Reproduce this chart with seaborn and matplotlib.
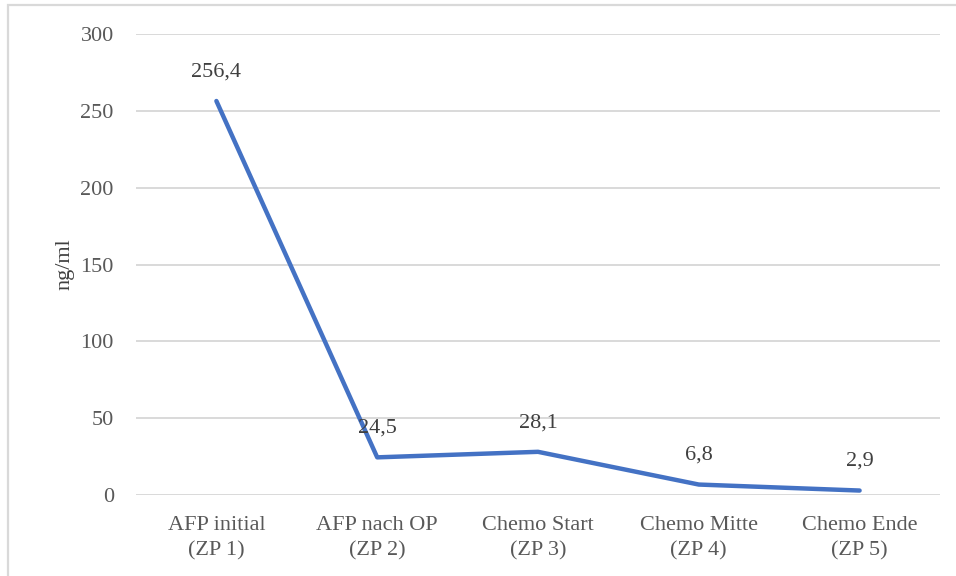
import matplotlib
matplotlib.use("Agg")
import matplotlib.pyplot as plt
import seaborn as sns
import pandas as pd
from matplotlib.patches import Rectangle

categories = ["AFP initial\n(ZP 1)", "AFP nach OP\n(ZP 2)", "Chemo Start\n(ZP 3)",
              "Chemo Mitte\n(ZP 4)", "Chemo Ende\n(ZP 5)"]
values = [256.4, 24.5, 28.1, 6.8, 2.9]
value_labels = ["256,4", "24,5", "28,1", "6,8", "2,9"]
y_ticks = [0, 50, 100, 150, 200, 250, 300]

sns.set_theme(style="white")
plt.rcParams["font.family"] = ["Liberation Serif", "DejaVu Serif"]

df = pd.DataFrame({"Zeitpunkt": categories, "AFP": values})

fig = plt.figure(figsize=(9.56, 5.76), dpi=100)
ax = fig.add_axes([136 / 956, 1 - 495 / 576, (940 - 136) / 956, (495 - 34) / 576])

sns.lineplot(data=df, x="Zeitpunkt", y="AFP", sort=False, ax=ax,
             color="#4472C4", linewidth=3.2, zorder=3)

ax.set_xlim(-0.5, len(categories) - 0.5)
ax.set_ylim(0, 300)
ax.set_yticks(y_ticks)
ax.set_yticklabels([str(t) for t in y_ticks])
ax.yaxis.grid(True, color="#d9d9d9", linewidth=1.4)
ax.xaxis.grid(False)
ax.set_axisbelow(True)
for s in ax.spines.values():
    s.set_visible(False)

ax.tick_params(axis="y", length=0, pad=16, labelsize=16, labelcolor="#595959")
ax.tick_params(axis="x", length=0, pad=15, labelsize=16, labelcolor="#595959")
for lbl in ax.get_xticklabels():
    lbl.set_linespacing(1.45)

ax.set_xlabel("")
ax.set_ylabel("ng/ml", fontsize=16, color="#404040", labelpad=4)

for i, (v, t) in enumerate(zip(values, value_labels)):
    ax.annotate(t, (i, v), xytext=(0, 21), textcoords="offset points",
                ha="center", va="center", fontsize=16, color="#404040", zorder=4)

# light frame around the chart area
fig.patches.append(Rectangle((8 / 956, -0.1), 1.1, 1 - 5 / 576 + 0.1,
                             transform=fig.transFigure, fill=False,
                             edgecolor="#d9d9d9", linewidth=1.6))

fig.savefig("out.png", dpi=100)
